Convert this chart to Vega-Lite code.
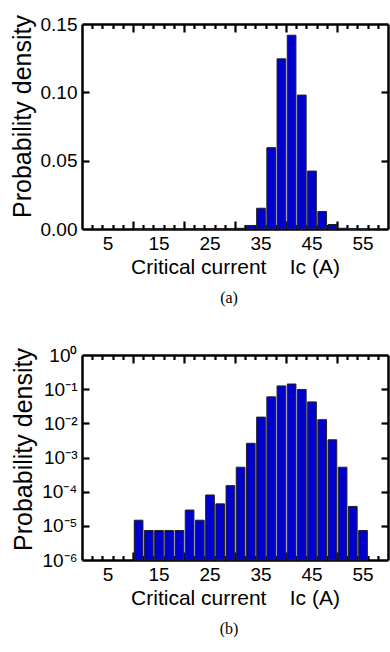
{
  "$schema": "https://vega.github.io/schema/vega-lite/v6.json",
  "padding": {"left": 10, "top": 14, "right": 0, "bottom": 0},
  "bounds": "flush",
  "spacing": 126,
  "config": {
    "font": "Liberation Sans",
    "view": {"stroke": null},
    "axis": {"grid": false, "domain": false, "domainColor": "black", "domainWidth": 2.5, "labelFont": "Liberation Sans", "labelFontSize": 19, "labelColor": "black", "titleFont": "Liberation Sans", "titleFontSize": 21, "titleFontWeight": "normal", "titleColor": "black", "tickColor": "black", "tickWidth": 2.2},
    "title": {"font": "Liberation Serif", "fontSize": 16, "fontWeight": "normal", "color": "black"}
  },
  "datasets": {
    "hist": [
      {"lo": 10, "hi": 12, "p": 0.0000146},
      {"lo": 12, "hi": 14, "p": 0.0000073},
      {"lo": 14, "hi": 16, "p": 0.0000073},
      {"lo": 16, "hi": 18, "p": 0.0000073},
      {"lo": 18, "hi": 20, "p": 0.0000073},
      {"lo": 20, "hi": 22, "p": 0.000029},
      {"lo": 22, "hi": 24, "p": 0.0000146},
      {"lo": 24, "hi": 26, "p": 0.00008},
      {"lo": 26, "hi": 28, "p": 0.000044},
      {"lo": 28, "hi": 30, "p": 0.00015},
      {"lo": 30, "hi": 32, "p": 0.00052},
      {"lo": 32, "hi": 34, "p": 0.0026},
      {"lo": 34, "hi": 36, "p": 0.0152},
      {"lo": 36, "hi": 38, "p": 0.0595},
      {"lo": 38, "hi": 40, "p": 0.1245},
      {"lo": 40, "hi": 42, "p": 0.1418},
      {"lo": 42, "hi": 44, "p": 0.098},
      {"lo": 44, "hi": 46, "p": 0.0424},
      {"lo": 46, "hi": 48, "p": 0.0128},
      {"lo": 48, "hi": 50, "p": 0.0033},
      {"lo": 50, "hi": 52, "p": 0.00052},
      {"lo": 52, "hi": 54, "p": 0.000037},
      {"lo": 54, "hi": 56, "p": 0.0000073}
    ]
  },
  "vconcat": [
    {
      "width": 306,
      "height": 205,
      "data": {"name": "hist"},
      "title": {"text": "(a)", "orient": "bottom", "anchor": "middle", "frame": "group", "offset": 13, "dx": -6},
      "layer": [
        {
          "mark": {"type": "bar", "fill": "#0000cc", "stroke": "#222222", "strokeWidth": 1, "binSpacing": 1.5},
          "encoding": {
            "x": {"field": "lo", "type": "quantitative", "bin": {"binned": true, "step": 2}, "scale": {"domain": [0, 60], "nice": false, "zero": false},
                  "axis": {"orient": "bottom", "values": [5, 15, 25, 35, 45, 55], "ticks": false, "domain": true, "labelPadding": 5, "title": "Critical current\u00a0\u00a0\u00a0 Ic (A)", "titlePadding": 3}},
            "x2": {"field": "hi"},
            "y": {"field": "p", "type": "quantitative", "scale": {"domain": [0, 0.15], "nice": false},
                  "axis": {"orient": "left", "values": [0, 0.05, 0.1, 0.15], "format": ".2f", "ticks": false, "domain": true, "labelPadding": 5, "title": "Probability density", "titleFontSize": 25, "titlePadding": 5, "titleY": 92}}
          }
        },
        {
          "mark": {"type": "point", "opacity": 0},
          "encoding": {
            "x": {"field": "lo", "type": "quantitative", "axis": {"orient": "bottom", "values": [10, 20, 30, 40, 50], "offset": -8, "tickSize": 8, "labels": false, "title": null}},
            "y": {"field": "p", "type": "quantitative", "axis": {"orient": "left", "values": [0.05, 0.1], "offset": -7, "tickSize": 7, "labels": false, "title": null}}
          }
        },
        {
          "mark": {"type": "point", "opacity": 0},
          "encoding": {
            "x": {"field": "lo", "type": "quantitative", "axis": {"orient": "bottom", "values": [2, 4, 6, 8, 12, 14, 16, 18, 22, 24, 26, 28, 32, 34, 36, 38, 42, 44, 46, 48, 52, 54, 56, 58], "offset": -4.5, "tickSize": 4.5, "labels": false, "title": null}},
            "y": {"field": "p", "type": "quantitative", "axis": {"orient": "right", "values": [0.05, 0.1], "offset": -7, "tickSize": 7, "labels": false, "title": null}}
          }
        },
        {
          "mark": {"type": "point", "opacity": 0},
          "encoding": {
            "x": {"field": "lo", "type": "quantitative", "axis": {"orient": "top", "values": [10, 20, 30, 40, 50], "offset": -8, "tickSize": 8, "labels": false, "title": null}},
            "y": {"field": "p", "type": "quantitative", "axis": {"orient": "right", "values": [0, 0.15], "ticks": false, "domain": true, "labels": false, "title": null}}
          }
        },
        {
          "mark": {"type": "point", "opacity": 0},
          "encoding": {
            "x": {"field": "lo", "type": "quantitative", "axis": {"orient": "top", "values": [2, 4, 6, 8, 12, 14, 16, 18, 22, 24, 26, 28, 32, 34, 36, 38, 42, 44, 46, 48, 52, 54, 56, 58], "offset": -4.5, "tickSize": 4.5, "labels": false, "title": null}},
            "y": {"field": "p", "type": "quantitative", "axis": null}
          }
        },
        {
          "mark": {"type": "point", "opacity": 0},
          "encoding": {
            "x": {"field": "lo", "type": "quantitative", "axis": {"orient": "top", "values": [0, 60], "ticks": false, "domain": true, "labels": false, "title": null}}
          }
        }
      ],
      "resolve": {"axis": {"x": "independent", "y": "independent"}}
    },
    {
      "width": 306,
      "height": 205,
      "data": {"name": "hist"},
      "title": {"text": "(b)", "orient": "bottom", "anchor": "middle", "frame": "group", "offset": 13, "dx": -6},
      "layer": [
        {
          "mark": {"type": "bar", "fill": "#0000cc", "stroke": "#222222", "strokeWidth": 1, "binSpacing": 1.5},
          "encoding": {
            "x": {"field": "lo", "type": "quantitative", "bin": {"binned": true, "step": 2}, "scale": {"domain": [0, 60], "nice": false, "zero": false},
                  "axis": {"orient": "bottom", "values": [5, 15, 25, 35, 45, 55], "ticks": false, "domain": true, "labelPadding": 5, "title": "Critical current\u00a0\u00a0\u00a0 Ic (A)", "titlePadding": 3}},
            "x2": {"field": "hi"},
            "y": {"field": "p", "type": "quantitative", "scale": {"type": "log", "domain": [0.000001, 1], "nice": false},
                  "axis": {"orient": "left", "values": [0.000001, 0.00001, 0.0001, 0.001, 0.01, 0.1, 1], "ticks": false, "domain": true, "labelPadding": 5, "title": "Probability density", "titleFontSize": 25, "titlePadding": 5, "titleY": 94,
                           "labelExpr": "round(log(datum.value)/LN10) == 0 ? '10⁰' : round(log(datum.value)/LN10) == -1 ? '10⁻¹' : round(log(datum.value)/LN10) == -2 ? '10⁻²' : round(log(datum.value)/LN10) == -3 ? '10⁻³' : round(log(datum.value)/LN10) == -4 ? '10⁻⁴' : round(log(datum.value)/LN10) == -5 ? '10⁻⁵' : '10⁻⁶'"}},
            "y2": {"datum": 0.000001}
          }
        },
        {
          "mark": {"type": "point", "opacity": 0},
          "encoding": {
            "x": {"field": "lo", "type": "quantitative", "axis": {"orient": "bottom", "values": [10, 20, 30, 40, 50], "offset": -8, "tickSize": 8, "labels": false, "title": null}},
            "y": {"field": "p", "type": "quantitative", "axis": {"orient": "left", "values": [0.00001, 0.0001, 0.001, 0.01, 0.1], "offset": -7, "tickSize": 7, "labels": false, "title": null}}
          }
        },
        {
          "mark": {"type": "point", "opacity": 0},
          "encoding": {
            "x": {"field": "lo", "type": "quantitative", "axis": {"orient": "bottom", "values": [2, 4, 6, 8, 12, 14, 16, 18, 22, 24, 26, 28, 32, 34, 36, 38, 42, 44, 46, 48, 52, 54, 56, 58], "offset": -4.5, "tickSize": 4.5, "labels": false, "title": null}},
            "y": {"field": "p", "type": "quantitative", "axis": {"orient": "right", "values": [0.00001, 0.0001, 0.001, 0.01, 0.1], "offset": -7, "tickSize": 7, "labels": false, "title": null}}
          }
        },
        {
          "mark": {"type": "point", "opacity": 0},
          "encoding": {
            "x": {"field": "lo", "type": "quantitative", "axis": {"orient": "top", "values": [10, 20, 30, 40, 50], "offset": -8, "tickSize": 8, "labels": false, "title": null}},
            "y": {"field": "p", "type": "quantitative", "axis": {"orient": "right", "values": [0.000001, 1], "ticks": false, "domain": true, "labels": false, "title": null}}
          }
        },
        {
          "mark": {"type": "point", "opacity": 0},
          "encoding": {
            "x": {"field": "lo", "type": "quantitative", "axis": {"orient": "top", "values": [2, 4, 6, 8, 12, 14, 16, 18, 22, 24, 26, 28, 32, 34, 36, 38, 42, 44, 46, 48, 52, 54, 56, 58], "offset": -4.5, "tickSize": 4.5, "labels": false, "title": null}},
            "y": {"field": "p", "type": "quantitative", "axis": null}
          }
        },
        {
          "mark": {"type": "point", "opacity": 0},
          "encoding": {
            "x": {"field": "lo", "type": "quantitative", "axis": {"orient": "top", "values": [0, 60], "ticks": false, "domain": true, "labels": false, "title": null}}
          }
        }
      ],
      "resolve": {"axis": {"x": "independent", "y": "independent"}}
    }
  ]
}
